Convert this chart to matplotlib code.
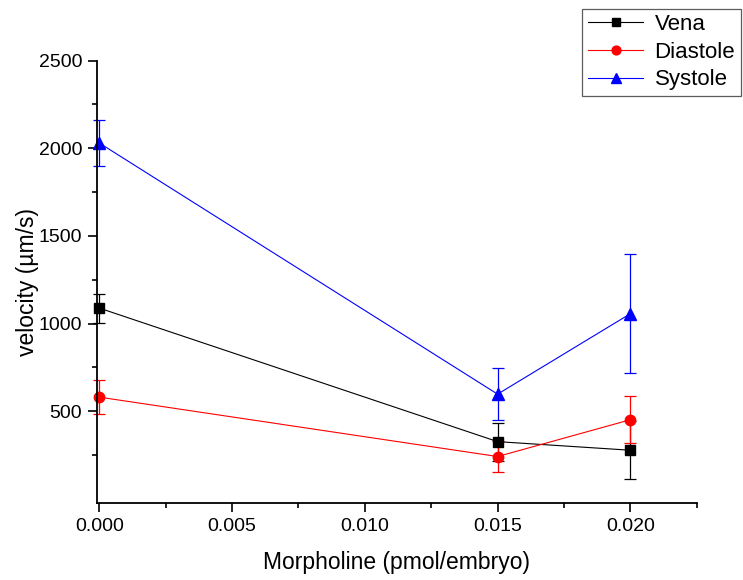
import matplotlib
matplotlib.use("Agg")
import matplotlib.pyplot as plt
from matplotlib.ticker import MultipleLocator

plt.rcParams['font.family'] = ['Liberation Sans', 'DejaVu Sans']

# data
dose = [0.0, 0.015, 0.020]

vena = [1088, 326, 277]
vena_err = [83, 108, 165]

diastole = [580, 241, 451]
diastole_err = [98, 89, 135]

systole = [2030, 597, 1056]
systole_err = [130, 150, 340]

fig = plt.figure(figsize=(7.43, 5.8), dpi=100)
ax = fig.add_axes([0.1301, 0.1328, 0.8076, 0.7626])

series = [
    ("Vena", vena, vena_err, "black", "s", 6.8),
    ("Diastole", diastole, diastole_err, "red", "o", 7.5),
    ("Systole", systole, systole_err, "blue", "^", 8.8),
]
handles = []
for name, y, err, col, mk, ms in series:
    c = ax.errorbar(dose, y, yerr=err, color=col, marker=mk, markersize=ms,
                    linewidth=0.8, elinewidth=0.9, capsize=4, capthick=0.9,
                    label=name, clip_on=False)
    handles.append(c[0])

ax.set_xlim(-0.0001, 0.0225)
ax.set_ylim(-24, 2500)
ax.set_xticks([0.0, 0.005, 0.010, 0.015, 0.020])
ax.set_xticklabels(["0.000", "0.005", "0.010", "0.015", "0.020"])
ax.xaxis.set_minor_locator(MultipleLocator(0.0025))
ax.set_yticks([500, 1000, 1500, 2000, 2500])
ax.set_yticks([250, 750, 1250, 1750, 2250], minor=True)

for s in ["top", "right"]:
    ax.spines[s].set_visible(False)
for s in ["left", "bottom"]:
    ax.spines[s].set_linewidth(1.3)
ax.tick_params(which="major", direction="out", length=6.5, width=1.2, labelsize=14, pad=4)
ax.tick_params(which="minor", direction="out", length=3.6, width=1.2)

ax.set_xlabel("Morpholine (pmol/embryo)", fontsize=16.5, labelpad=12)
ax.set_ylabel("velocity (\u00b5m/s)", fontsize=16.5, labelpad=0)

leg = fig.legend(handles, ["Vena", "Diastole", "Systole"], loc="upper right",
                 bbox_to_anchor=(1.003, 0.993), fontsize=16,
                 frameon=True, fancybox=False, edgecolor="#333333",
                 handlelength=2.5, borderpad=0.25, labelspacing=0.3,
                 handletextpad=0.5, markerscale=0.85, borderaxespad=0.2)
leg.get_frame().set_linewidth(0.9)

plt.savefig("out.png", dpi=100)
